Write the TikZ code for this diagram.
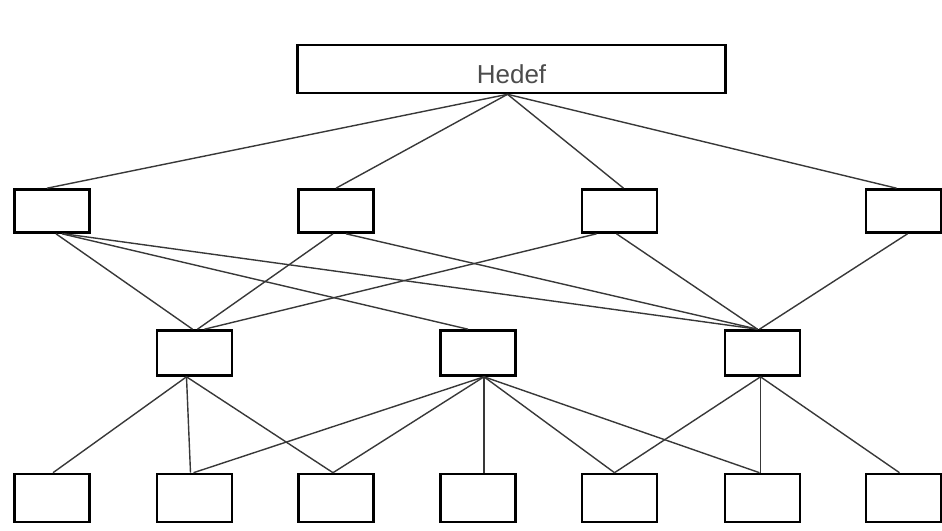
\documentclass[tikz,border=0pt]{standalone}
\usepackage{fontspec}
\setmainfont{Liberation Sans}
\begin{document}
\begin{tikzpicture}[x=1pt,y=-1pt,
  box/.style={draw=black,line width=2.6pt,minimum width=75pt,minimum height=43pt,inner sep=0pt,fill=white},
  lowbox/.style={box,minimum height=48pt},
  midbox/.style={box,minimum height=45pt},
  link/.style={draw=black!78,line width=1.4pt}]
\useasboundingbox (0,0) rectangle (942,530);
% top
\node[box,minimum width=428pt,minimum height=48pt,font=\fontsize{26}{30}\selectfont,
      text=black!70,text height=28pt,text depth=0pt] (H) at (511.5,69) {Hedef};
% level 1
\node[box] (A) at (52,211) {};
\node[box] (B) at (336,211) {};
\node[box] (C) at (619.5,211) {};
\node[box] (D) at (903.5,211) {};
% level 2
\node[midbox] (E) at (194.5,353) {};
\node[midbox] (F) at (478,353) {};
\node[midbox] (G) at (762.5,353) {};
% level 3
\node[lowbox] (K1) at (52,498) {};
\node[lowbox] (K2) at (194.5,498) {};
\node[lowbox] (K3) at (336,498) {};
\node[lowbox] (K4) at (478,498) {};
\node[lowbox] (K5) at (619.5,498) {};
\node[lowbox] (K6) at (762.5,498) {};
\node[lowbox] (K7) at (903.5,498) {};
% top links
\draw[link] ([xshift=-4pt]H.south) -- ([xshift=-5pt]A.north);
\draw[link] ([xshift=-4pt]H.south) -- (B.north);
\draw[link] ([xshift=-4pt]H.south) -- ([xshift=4pt]C.north);
\draw[link] ([xshift=-4pt]H.south) -- ([xshift=-7pt]D.north);
% level 1 -> level 2
\draw[link] ([xshift=4pt]A.south) -- ([xshift=-2pt]E.north);
\draw[link] ([xshift=10pt]A.south) -- ([xshift=-10pt]F.north);
\draw[link] ([xshift=12pt]A.south) -- ([xshift=-5pt]G.north);
\draw[link] ([xshift=-3pt]B.south) -- ([xshift=3pt]E.north);
\draw[link] ([xshift=10pt]B.south) -- ([xshift=-5pt]G.north);
\draw[link] ([xshift=-23pt]C.south) -- ([xshift=10pt]E.north);
\draw[link] ([xshift=-3pt]C.south) -- ([xshift=-5pt]G.north);
\draw[link] ([xshift=4pt]D.south) -- ([xshift=-3pt]G.north);
% level 2 -> level 3
\draw[link] ([xshift=-8pt]E.south) -- ([xshift=1pt]K1.north);
\draw[link] ([xshift=-8pt]E.south) -- ([xshift=-4pt]K2.north);
\draw[link] ([xshift=-8pt]E.south) -- ([xshift=-3pt]K3.north);
\draw[link] ([xshift=6pt]F.south) -- ([xshift=-1pt]K2.north);
\draw[link] ([xshift=6pt]F.south) -- ([xshift=-3pt]K3.north);
\draw[link] ([xshift=6pt]F.south) -- ([xshift=6pt]K4.north);
\draw[link] ([xshift=6pt]F.south) -- ([xshift=-5pt]K5.north);
\draw[link] ([xshift=6pt]F.south) -- ([xshift=-3pt]K6.north);
\draw[link] ([xshift=-2pt]G.south) -- ([xshift=-5pt]K5.north);
\draw[link] ([xshift=-2pt]G.south) -- ([xshift=-2pt]K6.north);
\draw[link] ([xshift=-2pt]G.south) -- ([xshift=-4pt]K7.north);
\end{tikzpicture}
\end{document}
